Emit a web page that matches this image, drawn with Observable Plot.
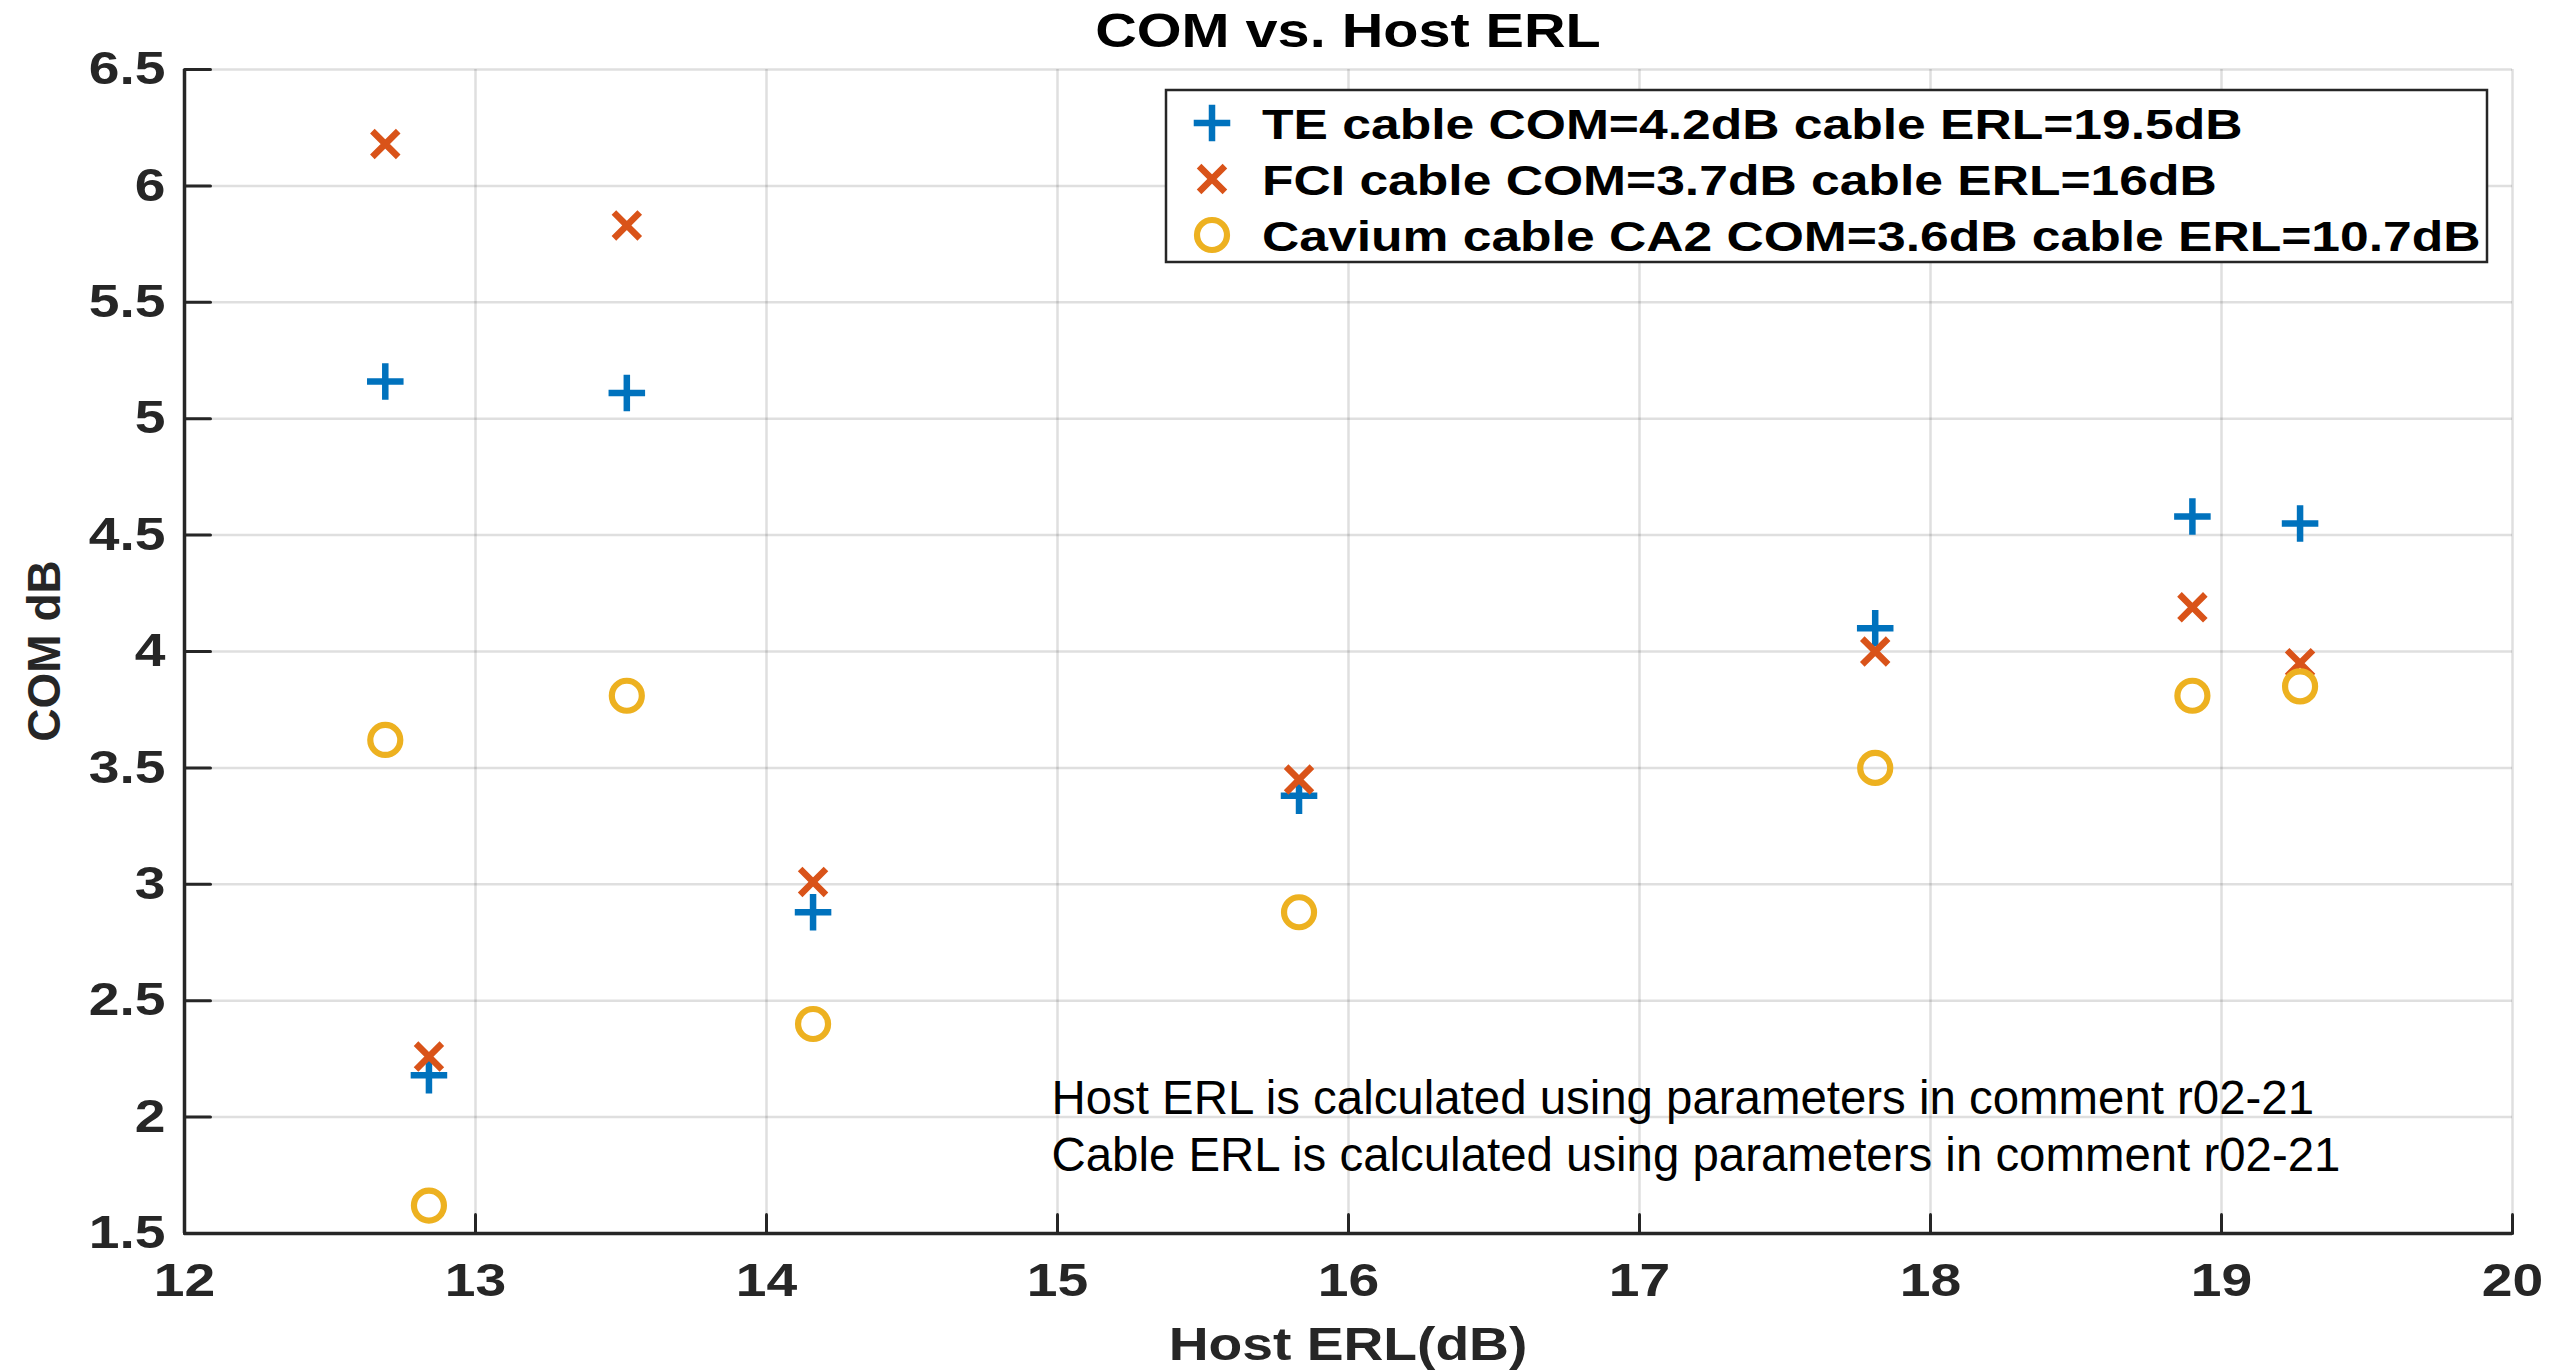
<!DOCTYPE html>
<html>
<head>
<meta charset="utf-8">
<script src="https://cdn.jsdelivr.net/npm/d3@7"></script>
<script src="https://cdn.jsdelivr.net/npm/@observablehq/plot@0.6"></script>
<style>
  html, body { margin: 0; padding: 0; background: #fff; }
  #wrap { position: relative; width: 2569px; height: 1370px; }
</style>
</head>
<body>
<div id="wrap"></div>
<script>
// ---------- data ----------
const hostERL   = [12.69, 12.84, 13.52, 14.16, 15.83, 17.81, 18.90, 19.27];
const teCOM     = [5.16, 2.18, 5.11, 2.88, 3.38, 4.10, 4.58, 4.55];
const fciCOM    = [6.18, 2.26, 5.83, 3.01, 3.45, 4.00, 4.19, 3.95];
const caviumCOM = [3.62, 1.62, 3.81, 2.40, 2.88, 3.50, 3.81, 3.85];
const seriesNames = [
  "TE cable COM=4.2dB cable ERL=19.5dB",
  "FCI cable COM=3.7dB cable ERL=16dB",
  "Cavium cable CA2 COM=3.6dB cable ERL=10.7dB"
];
const xTicks = [12, 13, 14, 15, 16, 17, 18, 19, 20];
const yTicks = [1.5, 2, 2.5, 3, 3.5, 4, 4.5, 5, 5.5, 6, 6.5];
const titleText = "COM vs. Host ERL";
const xLabel = "Host ERL(dB)";
const yLabel = "COM dB";
const noteLines = [
  "Host ERL is calculated using parameters in comment r02-21",
  "Cable ERL is calculated using parameters in comment r02-21"
];
const noteAt = {x: 15, y: 1.77};

// ---------- styling ----------
const W = 2569, H = 1370;
const ML = 184, MR = 57, MT = 69, MB = 137;
const AX = "#262626";
const FONT = "'Liberation Sans', Arial, Helvetica, sans-serif";
const STRETCH = 1.2;
const series = [
  {name: seriesNames[0], values: teCOM,     symbol: "plus",   color: "#0072BD", r: 11.8, sw: 6.5},
  {name: seriesNames[1], values: fciCOM,    symbol: "times",  color: "#D95319", r: 11.8, sw: 6.5},
  {name: seriesNames[2], values: caviumCOM, symbol: "circle", color: "#EDB120", r: 15,   sw: 6.2}
];
const rows = series.flatMap((s, k) => hostERL.map((x, i) => ({x, y: s.values[i], k})));
const tickShape = {draw(ctx, l) { ctx.moveTo(0, 0); ctx.lineTo(0, -l); }};

const chart = Plot.plot({
  width: W, height: H,
  marginLeft: ML, marginRight: MR, marginTop: MT, marginBottom: MB,
  style: {background: "#fff", fontFamily: FONT, overflow: "visible"},
  x: {domain: [12, 20]},
  y: {domain: [1.5, 6.5]},
  marks: [
    Plot.gridX(xTicks, {stroke: AX, strokeOpacity: 0.15, strokeWidth: 2.5}),
    Plot.gridY(yTicks, {stroke: AX, strokeOpacity: 0.15, strokeWidth: 2.5}),
    Plot.axisX(xTicks, {tickSize: 0, tickPadding: 30, fontSize: 46, fontWeight: "bold", fill: AX, label: null, tickFormat: d => String(d)}),
    Plot.axisY(yTicks, {tickSize: 0, tickPadding: 19, fontSize: 46, fontWeight: "bold", fill: AX, label: null, tickFormat: d => String(d)}),
    Plot.vector(xTicks, {x: d => d, y: 1.5, length: 19, rotate: 0, anchor: "start", shape: tickShape, stroke: AX, strokeWidth: 3}),
    Plot.vector(yTicks, {x: 12, y: d => d, length: 26, rotate: 90, anchor: "start", shape: tickShape, stroke: AX, strokeWidth: 3}),
    Plot.ruleX([12], {stroke: AX, strokeWidth: 3.5}),
    Plot.ruleY([1.5], {stroke: AX, strokeWidth: 3.5}),
    Plot.text([noteLines.join("\n")], {x: noteAt.x, y: noteAt.y, text: d => d, textAnchor: "start", lineAnchor: "bottom", lineHeight: 1.19, fontSize: 47.4, fill: "#000", dx: -6}),
    ...series.map((s, k) => Plot.dot(rows.filter(d => d.k === k), {
      x: "x", y: "y", symbol: s.symbol, r: s.r, stroke: s.color, strokeWidth: s.sw, fill: "none"
    }))
  ]
});

document.getElementById("wrap").appendChild(chart);
const svg = d3.select(chart);

// stretch bold tick labels horizontally like the reference
svg.selectAll('g[aria-label="x-axis tick label"] text, g[aria-label="y-axis tick label"] text').each(function () {
  const t = this.getAttribute("transform") || "";
  this.setAttribute("transform", t + ` scale(${STRETCH},1)`);
});

const cx = ML + (W - ML - MR) / 2;
const cy = MT + (H - MT - MB) / 2;

// title
svg.append("text").text(titleText)
  .attr("transform", `translate(${cx},47) scale(${STRETCH},1)`)
  .attr("text-anchor", "middle").attr("font-size", 48).attr("font-weight", "bold")
  .attr("font-family", FONT).attr("fill", "#000");
// x label
svg.append("text").text(xLabel)
  .attr("transform", `translate(${cx},1360) scale(${STRETCH},1)`)
  .attr("text-anchor", "middle").attr("font-size", 46).attr("font-weight", "bold")
  .attr("font-family", FONT).attr("fill", AX);
// y label
svg.append("text").text(yLabel)
  .attr("transform", `translate(60,${cy}) rotate(-90)`)
  .attr("text-anchor", "middle").attr("font-size", 46).attr("font-weight", "bold")
  .attr("font-family", FONT).attr("fill", AX);

// legend
const LW = 1321, LH = 172;
const LX = W - MR - 25 - LW, LY = MT + 21;
const lg = svg.append("g").attr("aria-label", "legend");
lg.append("rect").attr("x", LX).attr("y", LY).attr("width", LW).attr("height", LH)
  .attr("fill", "#fff").attr("stroke", AX).attr("stroke-width", 2.5);
const symMap = {plus: d3.symbolPlus, times: d3.symbolTimes, circle: d3.symbolCircle};
series.forEach((s, k) => {
  const rowY = LY + 33 + k * 56;
  lg.append("path")
    .attr("d", d3.symbol(symMap[s.symbol], Math.PI * s.r * s.r)())
    .attr("transform", `translate(${LX + 46},${rowY})`)
    .attr("fill", "none").attr("stroke", s.color).attr("stroke-width", s.sw);
  lg.append("text").text(s.name)
    .attr("transform", `translate(${LX + 96},${rowY + 15.5}) scale(${STRETCH},1)`)
    .attr("text-anchor", "start")
    .attr("font-size", 43).attr("font-weight", "bold").attr("font-family", FONT).attr("fill", "#000");
});
</script>
</body>
</html>
